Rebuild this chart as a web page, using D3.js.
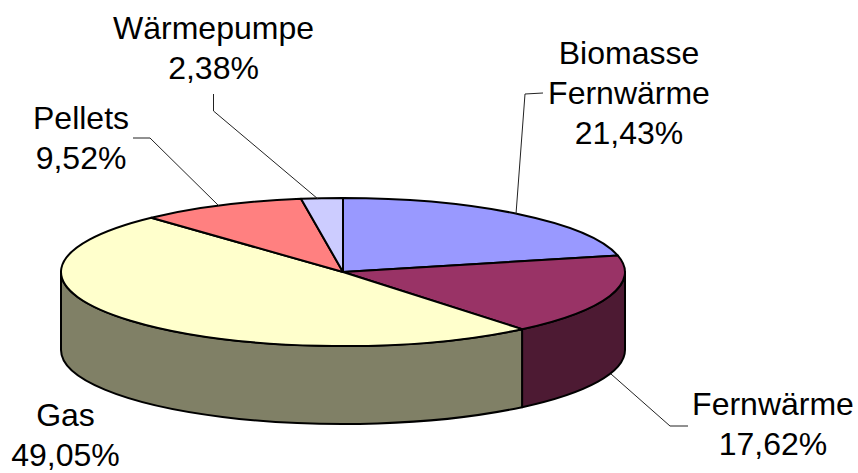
<!DOCTYPE html>
<html>
<head>
<meta charset="utf-8">
<script src="https://cdn.jsdelivr.net/npm/d3@7"></script>
<style>
    html, body { margin: 0; padding: 0; background: #fff; }
    svg { display: block; }
    text { font-family: "Liberation Sans", Arial, sans-serif; font-size: 32px; fill: #000; }
</style>
</head>
<body>
<div id="chart"></div>
<script>
// chart values
const categories = ["Biomasse Fernwärme", "Fernwärme", "Gas", "Pellets", "Wärmepumpe"];
const shares = [21.43, 17.62, 49.05, 9.52, 2.38];
const shareLabels = ["21,43%", "17,62%", "49,05%", "9,52%", "2,38%"];
const topColors = ["#9999ff", "#993366", "#ffffcc", "#ff8080", "#ccccff"];
const sideColors = ["#4d4d80", "#4d1a33", "#808066", "#804040", "#666680"];

// label placement, same order as categories
const labelLines = [["Biomasse", "Fernwärme"], ["Fernwärme"], ["Gas"], ["Pellets"], ["Wärmepumpe"]];
const labelX = [629, 773, 65.5, 81, 213.5];
const labelY = [64, 415, 426, 129, 39];
const leaders = [
    [[543, 93], [525, 94], [516, 214]],
    [[688, 426], [670, 426], [611, 374]],
    [],
    [[133, 138], [150, 138], [219, 206]],
    [[213.5, 94], [213.5, 111], [318, 199]]
];

const width = 858, height = 473;
const cx = 343, cy = 272, rx = 282, ry = 74, depth = 78;
const lineHeight = 40;

const svg = d3.select("#chart").append("svg")
    .attr("width", width)
    .attr("height", height);

const pie = d3.pie().sort(null).value(d => d);
const slices = pie(shares);

// ellipse point for a pie angle (0 = top, clockwise)
const px = a => cx + rx * Math.sin(a);
const py = a => cy - ry * Math.cos(a);

// side walls, only the front half of the ellipse can be seen
const sideGroup = svg.append("g");
slices.forEach((s, i) => {
    const a0 = Math.max(s.startAngle, Math.PI / 2);
    const a1 = Math.min(s.endAngle, Math.PI * 1.5);
    if (a1 <= a0) return;
    const path = `M${px(a0)},${py(a0)}`
        + `A${rx},${ry} 0 0 1 ${px(a1)},${py(a1)}`
        + `L${px(a1)},${py(a1) + depth}`
        + `A${rx},${ry} 0 0 0 ${px(a0)},${py(a0) + depth}Z`;
    sideGroup.append("path")
        .attr("d", path)
        .attr("fill", sideColors[i])
        .attr("stroke", "#000")
        .attr("stroke-width", 2)
        .attr("stroke-linejoin", "round");
});

// top face: a flat d3.arc pie squeezed into an ellipse
const arc = d3.arc().innerRadius(0).outerRadius(rx);
svg.append("g")
    .attr("transform", `translate(${cx},${cy}) scale(1,${ry / rx})`)
    .selectAll("path")
    .data(slices)
    .join("path")
    .attr("d", arc)
    .attr("fill", (d, i) => topColors[i])
    .attr("stroke", "#000")
    .attr("stroke-width", 2)
    .attr("stroke-linejoin", "round")
    .attr("vector-effect", "non-scaling-stroke");

// leader lines
const line = d3.line();
svg.append("g")
    .selectAll("path")
    .data(leaders.filter(d => d.length))
    .join("path")
    .attr("d", line)
    .attr("fill", "none")
    .attr("stroke", "#222")
    .attr("stroke-width", 1);

// labels
categories.forEach((c, i) => {
    const label = svg.append("text")
        .attr("text-anchor", "middle")
        .attr("transform", `translate(${labelX[i]},${labelY[i]})`);
    labelLines[i].concat(shareLabels[i]).forEach((t, j) => {
        label.append("tspan")
            .attr("x", 0)
            .attr("y", j * lineHeight)
            .text(t);
    });
});
</script>
</body>
</html>
